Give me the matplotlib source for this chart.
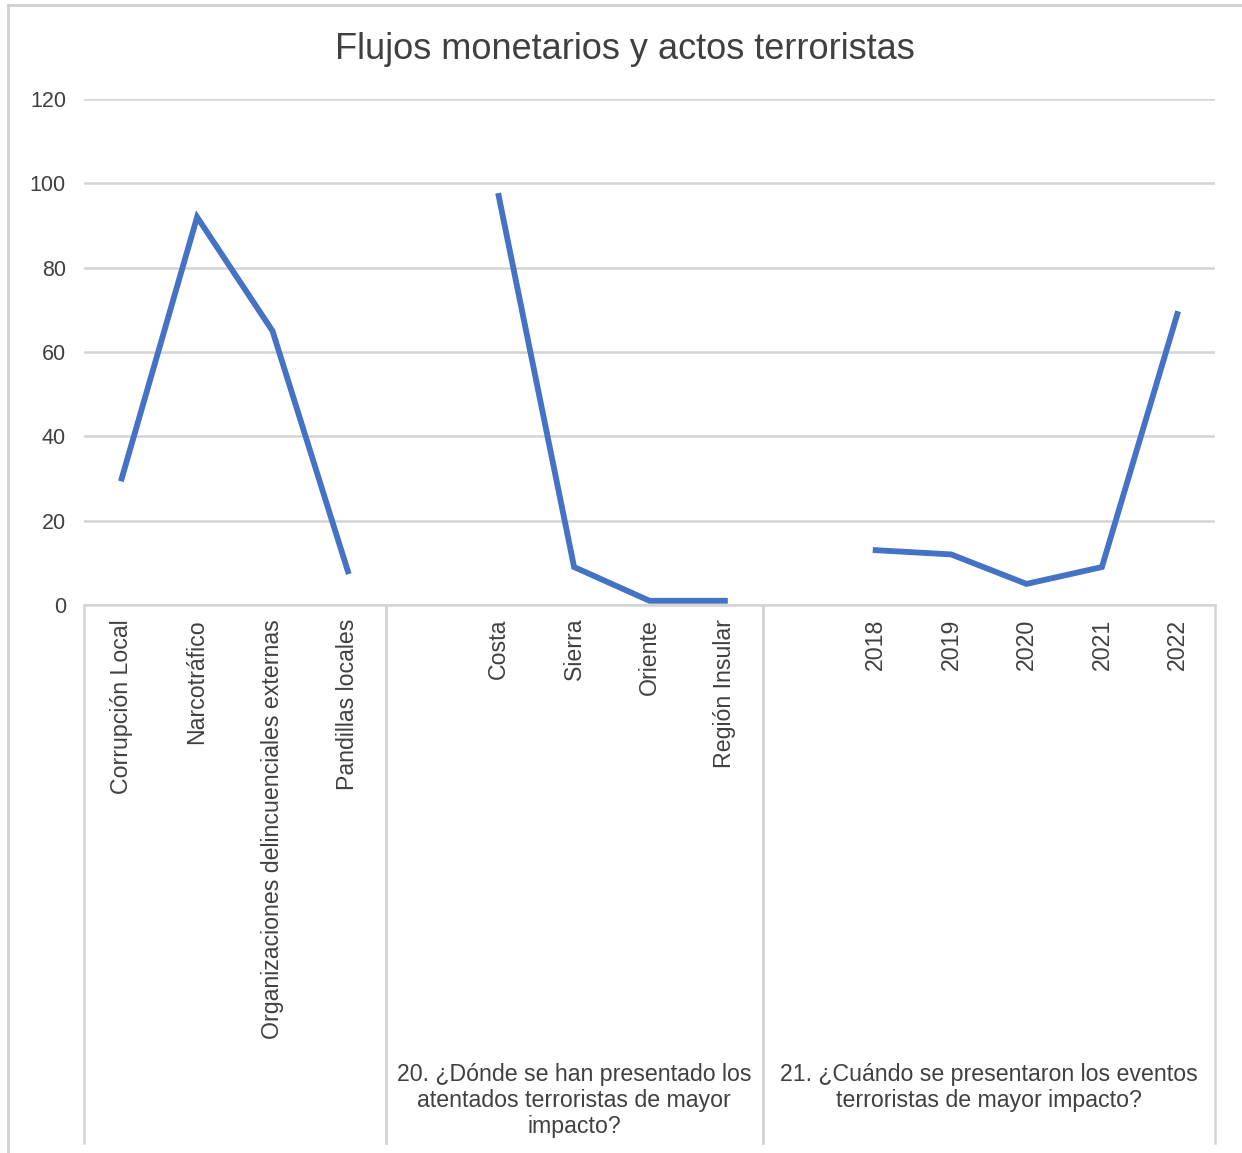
import matplotlib.pyplot as plt
import numpy as np
from matplotlib.lines import Line2D

plt.rcParams['font.family'] = ['Liberation Sans', 'DejaVu Sans']

# category slots; empty strings are the blank slots between groups
categories = ['Corrupción Local', 'Narcotráfico',
              'Organizaciones delincuenciales externas', 'Pandillas locales',
              '', 'Costa', 'Sierra', 'Oriente', 'Región Insular',
              '', '2018', '2019', '2020', '2021', '2022']
values = [30, 92, 65, 8,
          np.nan, 97, 9, 1, 1,
          np.nan, 13, 12, 5, 9, 69]

group_labels = ['',
                '20. ¿Dónde se han presentado los\natentados terroristas de mayor\nimpacto?',
                '21. ¿Cuándo se presentaron los eventos\nterroristas de mayor impacto?']
group_bounds = [(-0.5, 3.5), (3.5, 8.5), (8.5, 14.5)]

yticks = [0, 20, 40, 60, 80, 100, 120]

grid_c = '#d4d4d4'
text_c = '#404040'

fig = plt.figure(figsize=(12.42, 11.53), dpi=100)
ax = fig.add_axes([84 / 1242, 1 - 605 / 1153, (1215 - 84) / 1242, (605 - 99) / 1153])

x = np.arange(len(categories))
ax.plot(x, values, color='#4472C4', lw=4.2, solid_joinstyle='miter')

ax.set_xlim(-0.5, len(categories) - 0.5)
ax.set_ylim(0, 120)
ax.set_yticks(yticks)
ax.yaxis.grid(True, color=grid_c, lw=1.8)
ax.set_axisbelow(True)

for s in ['top', 'right', 'left']:
    ax.spines[s].set_visible(False)
ax.spines['bottom'].set_color(grid_c)
ax.spines['bottom'].set_linewidth(1.8)

ax.set_xticks(x)
ax.set_xticklabels(categories, rotation=90, va='top', fontsize=16.7, color=text_c)
ax.tick_params(axis='x', length=0, pad=10)
ax.tick_params(axis='y', length=0, pad=13, labelsize=15.5, labelcolor=text_c)

# group separators and group labels below the axis
trans = ax.get_xaxis_transform()
depth = (1143 - 605) / 506
for i, (a, b) in enumerate(group_bounds):
    for xv in (a, b):
        ax.plot([xv, xv], [0, -depth], transform=trans, color=grid_c,
                lw=1.8, clip_on=False)
    if group_labels[i]:
        ax.text((a + b) / 2, -0.905, group_labels[i], transform=trans,
                ha='center', va='top', fontsize=16.7, color=text_c,
                linespacing=1.18)

fig.suptitle('Flujos monetarios y actos terroristas', y=1 - 32 / 1153,
             x=625 / 1242, va='top', fontsize=26, color=text_c)

# outer frame
fig.add_artist(Line2D([8 / 1242, 8 / 1242], [0, 1 - 5 / 1153],
                      transform=fig.transFigure, color='#d0d0d0', lw=2))
fig.add_artist(Line2D([8 / 1242, 1], [1 - 5 / 1153, 1 - 5 / 1153],
                      transform=fig.transFigure, color='#d0d0d0', lw=2))

fig.savefig('out.png', dpi=100)
